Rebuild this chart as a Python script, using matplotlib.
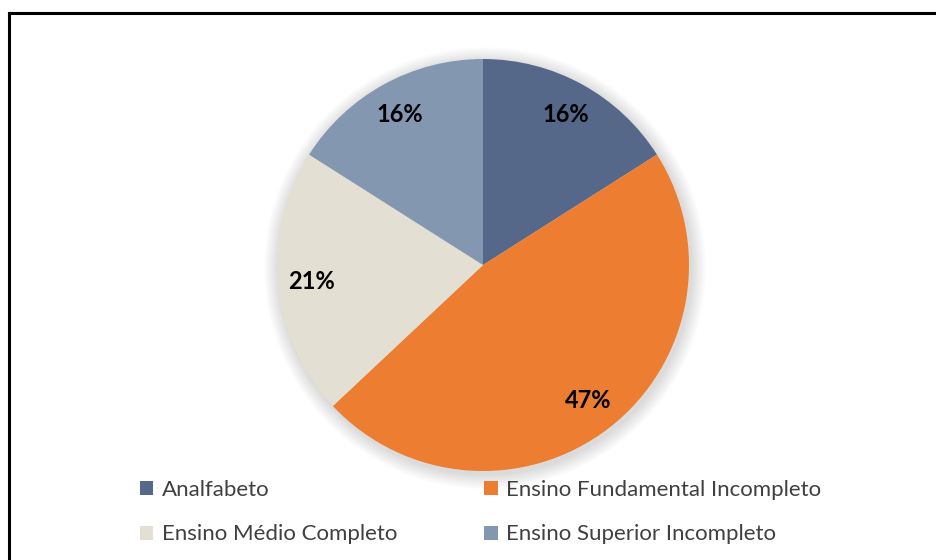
import matplotlib.pyplot as plt
from matplotlib.lines import Line2D
from matplotlib.patches import Circle

labels = ['Analfabeto', 'Ensino Fundamental Incompleto',
          'Ensino Médio Completo', 'Ensino Superior Incompleto']
values = [16, 47, 21, 16]
colors = ['#55688A', '#ED7D31', '#E4DFD3', '#8497B0']

plt.rcParams['font.family'] = ['Lato', 'DejaVu Sans']

W, H = 936, 560
fig = plt.figure(figsize=(W / 100, H / 100), dpi=100)

# frame lines (top and left only)
fig.add_artist(Line2D([8.5 / W, 1.0], [1 - 13 / H, 1 - 13 / H], color='black', lw=2.2))
fig.add_artist(Line2D([8.5 / W, 8.5 / W], [0, 1 - 13 / H], color='black', lw=2.2))

cx, cy, r = 483, 265, 206
pad = 30
ax = fig.add_axes([(cx - r - pad) / W, (H - cy - r - pad) / H,
                   2 * (r + pad) / W, 2 * (r + pad) / H])
lim = (r + pad) / r

# soft shadow behind the pie
for i in range(12):
    ax.add_patch(Circle((0.01, -0.015), 1.0 + 0.006 * (12 - i), color='black',
                        alpha=0.01, lw=0, zorder=0))

wedges, texts, autotexts = ax.pie(values, colors=colors, startangle=90, counterclock=False,
                                  autopct='%1.0f%%', pctdistance=0.835,
                                  textprops=dict(fontsize=17, fontweight='bold', color='black'))
for w in wedges:
    w.set_zorder(2)
for t in autotexts:
    t.set_zorder(3)
ax.set_xlim(-lim, lim)
ax.set_ylim(-lim, lim)
ax.set_aspect('auto')
ax.axis('off')

order = [0, 2, 1, 3]
leg = fig.legend([wedges[i] for i in order], [labels[i] for i in order],
                 ncol=2, loc='upper left', bbox_to_anchor=(120 / W, 1 - 460 / H),
                 frameon=False, fontsize=16, handlelength=0.6, handleheight=0.6,
                 handletextpad=0.4, columnspacing=3.9, labelspacing=1.1,
                 labelcolor='#404040')

fig.savefig('out.png', dpi=100)
